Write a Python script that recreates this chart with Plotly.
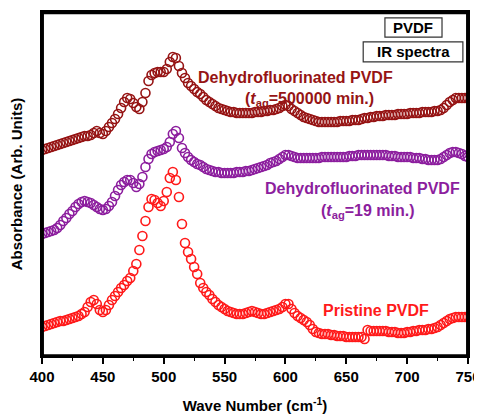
import plotly.graph_objects as go

wave_number = [
    400.0, 402.5, 405.0, 407.5, 410.0, 412.5, 415.0, 417.5, 420.0, 422.5,
    425.0, 427.5, 430.0, 432.5, 435.0, 437.5, 440.0, 442.5, 445.0, 447.5,
    450.0, 452.5, 455.0, 457.5, 460.0, 462.5, 465.0, 467.5, 470.0, 472.5,
    475.0, 477.5, 480.0, 482.5, 485.0, 487.5, 490.0, 492.5, 495.0, 497.5,
    500.0, 502.5, 505.0, 507.5, 510.0, 512.5, 515.0, 517.5, 520.0, 522.5,
    525.0, 527.5, 530.0, 532.5, 535.0, 537.5, 540.0, 542.5, 545.0, 547.5,
    550.0, 552.5, 555.0, 557.5, 560.0, 562.5, 565.0, 567.5, 570.0, 572.5,
    575.0, 577.5, 580.0, 582.5, 585.0, 587.5, 590.0, 592.5, 595.0, 597.5,
    600.0, 602.5, 605.0, 607.5, 610.0, 612.5, 615.0, 617.5, 620.0, 622.5,
    625.0, 627.5, 630.0, 632.5, 635.0, 637.5, 640.0, 642.5, 645.0, 647.5,
    650.0, 652.5, 655.0, 657.5, 660.0, 662.5, 665.0, 667.5, 670.0, 672.5,
    675.0, 677.5, 680.0, 682.5, 685.0, 687.5, 690.0, 692.5, 695.0, 697.5,
    700.0, 702.5, 705.0, 707.5, 710.0, 712.5, 715.0, 717.5, 720.0, 722.5,
    725.0, 727.5, 730.0, 732.5, 735.0, 737.5, 740.0, 742.5, 745.0, 747.5,
    750.0,
]

# Absorbance (arbitrary units, curves vertically offset)
pristine = [
    29, 30, 31, 32, 33, 34, 35, 35, 36, 37,
    38, 39, 40, 42, 44, 49, 54, 56, 52, 46,
    44, 46, 51, 56, 60, 64, 68, 71, 75, 78,
    85, 92, 106, 120, 135, 149, 157, 156, 153, 150,
    155, 164, 178, 184, 176, 159, 132, 113, 104, 97,
    89, 82, 73, 68, 64, 61, 57, 54, 51, 49,
    47, 45, 44, 43, 42, 42, 42, 43, 44, 45,
    44, 43, 42, 42, 43, 44, 45, 46, 47, 49,
    52, 52, 47, 43, 40, 38, 36, 34, 31, 27,
    24, 23, 22, 22, 22, 21, 21, 20, 20, 20,
    19, 19, 19, 19, 19, 19, 17, 26, 25, 25,
    25, 25, 25, 25, 24, 24, 24, 23, 23, 23,
    24, 24, 25, 25, 26, 26, 26, 27, 27, 28,
    29, 31, 33, 35, 37, 38, 39, 39, 39, 39,
    39,
]

dehydro_19min = [
    122, 123, 124, 125, 126, 128, 131, 135, 138, 142,
    145, 149, 152, 154, 155, 154, 153, 151, 149, 147,
    146, 147, 150, 154, 160, 166, 171, 174, 176, 176,
    173, 169, 172, 179, 189, 197, 202, 204, 205, 206,
    207, 209, 214, 222, 225, 218, 208, 203, 199, 196,
    194, 192, 191, 189, 187, 186, 185, 184, 184, 183,
    183, 183, 183, 183, 184, 184, 184, 185, 185, 186,
    187, 188, 189, 190, 191, 193, 194, 195, 197, 199,
    201, 201, 200, 199, 198, 198, 198, 198, 198, 198,
    198, 198, 199, 199, 199, 199, 199, 199, 199, 199,
    199, 200, 200, 200, 201, 201, 201, 201, 201, 201,
    201, 201, 201, 201, 200, 200, 200, 199, 199, 199,
    199, 199, 198, 198, 198, 197, 197, 196, 196, 196,
    196, 197, 199, 201, 203, 204, 204, 203, 202, 200,
    199,
]

dehydro_500000min = [
    206, 207, 208, 209, 210, 211, 212, 213, 214, 215,
    216, 217, 218, 219, 220, 220, 221, 223, 225, 223,
    222, 225, 229, 233, 237, 242, 248, 254, 258, 257,
    253, 249, 247, 254, 263, 275, 281, 283, 284, 284,
    284, 287, 294, 299, 298, 290, 283, 278, 273, 270,
    267, 264, 262, 259, 256, 254, 252, 250, 248, 247,
    246, 245, 244, 244, 243, 243, 243, 243, 243, 243,
    244, 244, 244, 245, 245, 246, 246, 247, 248, 250,
    251, 250, 247, 245, 243, 241, 239, 238, 237, 236,
    235, 234, 234, 234, 234, 234, 234, 234, 235, 235,
    235, 235, 236, 236, 236, 237, 238, 238, 239, 239,
    240, 240, 240, 241, 241, 241, 241, 242, 242, 242,
    242, 243, 243, 243, 243, 244, 244, 244, 244, 245,
    245, 246, 248, 251, 254, 256, 258, 258, 258, 258,
    258,
]

DARKRED = "#961414"
PURPLE = "#8C1E9E"
RED = "#FF1A1A"
FONT = "Arial"

fig = go.Figure()
for name, ys, col in [
    ("Pristine PVDF", pristine, RED),
    ("Dehydrofluorinated PVDF (19 min)", dehydro_19min, PURPLE),
    ("Dehydrofluorinated PVDF (500000 min)", dehydro_500000min, DARKRED),
]:
    fig.add_trace(go.Scatter(
        x=wave_number, y=ys, mode="markers", name=name,
        marker=dict(symbol="circle-open", size=9, color=col,
                    line=dict(color=col, width=1.6)),
        showlegend=False,
    ))

# invisible companion trace that carries the minor-tick axis
fig.add_trace(go.Scatter(
    x=wave_number, y=pristine, xaxis="x2", mode="markers",
    marker=dict(opacity=0), hoverinfo="skip", showlegend=False,
))

def label(x, y, text, color):
    fig.add_annotation(x=x, y=y, xref="x", yref="y", text=text,
                       showarrow=False, xanchor="center", yanchor="middle",
                       font=dict(family=FONT, size=16, color=color))

label(608, 279, "<b>Dehydrofluorinated PVDF</b>", DARKRED)
label(620, 257, "<b>(<i>t</i><sub>ag</sub>=500000 min.)</b>", DARKRED)
label(663, 168, "<b>Dehydrofluorinated PVDF</b>", PURPLE)
label(668, 145, "<b>(<i>t</i><sub>ag</sub>=19 min.)</b>", PURPLE)
label(674, 46, "<b>Pristine PVDF</b>", RED)

# plot frame
fig.add_shape(type="rect", xref="paper", yref="paper",
              x0=0.002, x1=0.998, y0=0.002, y1=0.997, layer="above",
              line=dict(color="black", width=2.2))

# boxed labels top-right
fig.add_shape(type="rect", xref="paper", yref="paper",
              x0=0.805, x1=0.939, y0=0.927, y1=0.983,
              line=dict(color="#333333", width=1.2))
fig.add_shape(type="rect", xref="paper", yref="paper",
              x0=0.754, x1=0.988, y0=0.855, y1=0.913,
              line=dict(color="#333333", width=1.2))
fig.add_annotation(x=0.871, y=0.955, xref="paper", yref="paper",
                   text="<b>PVDF</b>", showarrow=False,
                   xanchor="center", yanchor="middle",
                   font=dict(family=FONT, size=15, color="black"))
fig.add_annotation(x=0.871, y=0.884, xref="paper", yref="paper",
                   text="<b>IR spectra</b>", showarrow=False,
                   xanchor="center", yanchor="middle",
                   font=dict(family=FONT, size=15, color="black"))

# the page body adds an 8px offset, so the figure is 8px smaller
fig.update_layout(
    width=474, height=406,
    margin=dict(l=34, r=14, t=4, b=58, autoexpand=False),
    paper_bgcolor="white", plot_bgcolor="white",
    font=dict(family=FONT, color="black"),
    xaxis=dict(
        range=[400, 750], tick0=400, dtick=50,
        ticks="outside", ticklen=6, tickwidth=1.5, tickcolor="black",
        showline=True, linecolor="black", linewidth=2, mirror=True,
        showgrid=False, zeroline=False,
        tickfont=dict(family=FONT, size=15, color="black"),
        tickprefix="<b>", ticksuffix="</b>",
        title=dict(text="<b>Wave Number (cm<sup>-1</sup>)</b>",
                   font=dict(family=FONT, size=15, color="black"), standoff=19),
    ),
    xaxis2=dict(
        overlaying="x", side="bottom", anchor="y",
        range=[400, 750], tick0=400, dtick=25,
        ticks="outside", ticklen=4, tickwidth=1.2, tickcolor="black",
        showticklabels=False, showline=False, showgrid=False, zeroline=False,
    ),
    yaxis=dict(
        range=[0, 344], showticklabels=False, ticks="",
        showline=True, linecolor="black", linewidth=2, mirror=True,
        showgrid=False, zeroline=False,
        title=dict(text="<b>Absorbance (Arb. Units)</b>",
                   font=dict(family=FONT, size=15, color="black"), standoff=16),
    ),
)

fig.write_html("out.html")
